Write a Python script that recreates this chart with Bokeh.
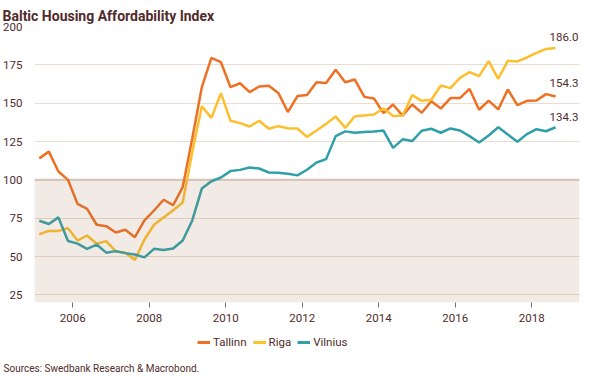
from bokeh.plotting import figure
from bokeh.layouts import column
from bokeh.models import (Range1d, FixedTicker, BoxAnnotation, Span, Label,
                          Legend, LegendItem, ColumnDataSource, Title)
from bokeh.embed import file_html
from bokeh.resources import INLINE

# ---- data (quarterly, 2005Q1 .. 2018Q3) ----
start_year = 2005
n_quarters = 55
quarter_x = [start_year + (i + 0.5) / 4 for i in range(n_quarters)]

tallinn = [114.0, 118.4, 105.4, 100.0, 84.3, 81.1, 70.7, 69.8, 65.7, 67.4,
           62.6, 73.5, 80.0, 87.0, 83.4, 95.2, 127.0, 160.4, 179.6, 176.7,
           160.4, 163.0, 157.2, 160.9, 161.3, 156.7, 144.2, 154.6, 155.4, 163.6,
           163.2, 171.8, 163.6, 165.4, 154.1, 153.1, 143.5, 149.1, 141.8, 149.1,
           143.7, 151.3, 146.5, 153.3, 153.3, 159.3, 145.7, 151.7, 145.9, 158.9,
           148.7, 151.5, 151.7, 155.9, 154.3]

riga = [64.5, 66.7, 66.7, 68.4, 60.4, 63.7, 58.3, 60.0, 53.3, 52.4,
        47.8, 61.1, 70.7, 75.4, 80.2, 85.2, 118.0, 148.0, 140.4, 156.5,
        138.5, 137.0, 134.8, 138.5, 133.3, 135.0, 133.7, 133.5, 128.0, 132.2,
        136.5, 141.3, 133.9, 141.5, 142.0, 142.6, 146.5, 141.7, 142.0, 155.2,
        151.5, 152.2, 161.5, 159.8, 166.5, 170.2, 167.6, 177.4, 165.9, 177.6,
        177.2, 179.8, 182.8, 185.4, 186.0]

vilnius = [73.3, 71.2, 75.5, 60.1, 58.4, 55.0, 57.8, 52.5, 53.5, 52.2,
           51.3, 49.4, 55.0, 54.3, 55.2, 60.4, 73.5, 94.3, 99.1, 101.5,
           105.7, 106.5, 108.0, 107.4, 104.8, 104.6, 104.0, 102.9, 106.6, 111.3,
           113.5, 128.5, 131.6, 130.7, 131.2, 131.5, 132.1, 120.8, 126.4, 125.3,
           132.0, 133.3, 130.7, 133.5, 132.2, 128.5, 124.3, 128.9, 134.3, 129.6,
           124.8, 129.8, 133.0, 131.7, 134.3]

series_names = ["Tallinn", "Riga", "Vilnius"]
series_colors = ["#ee7023", "#fdbf2d", "#2fa0a8"]
end_labels = ["154.3", "186.0", "134.3"]

y_ticks = [25, 50, 75, 100, 125, 150, 175, 200]
x_ticks = [2006, 2008, 2010, 2012, 2014, 2016, 2018]

TEXT = "#512b2b"
FONT = "Roboto"

p = figure(width=587, height=328, output_backend="svg", toolbar_location=None,
           x_range=Range1d(2005.0, 2019.25), y_range=Range1d(20, 200),
           min_border_left=26, min_border_right=8, min_border_top=26,
           min_border_bottom=26)

p.title.text = "Baltic Housing Affordability Index"
p.title.text_font = FONT
p.title.text_font_size = "14px"
p.title.text_font_style = "bold"
p.title.text_color = TEXT
p.title.align = "left"
p.title.offset = -32
p.title.standoff = 6

p.outline_line_color = None
p.background_fill_color = "white"
p.border_fill_color = "white"

# axes
p.yaxis.ticker = FixedTicker(ticks=y_ticks)
p.yaxis.axis_line_color = None
p.yaxis.major_tick_line_color = None
p.yaxis.minor_tick_line_color = None
p.yaxis.major_label_text_font = FONT
p.yaxis.major_label_text_font_size = "11.5px"
p.yaxis.major_label_text_color = TEXT
p.yaxis.major_label_standoff = 6

p.xaxis.ticker = FixedTicker(ticks=x_ticks)
p.xaxis.axis_line_color = None
p.xaxis.major_tick_in = 0
p.xaxis.major_tick_out = 5
p.xaxis.major_tick_line_color = "#7d6b6b"
p.xaxis.minor_tick_line_color = None
p.xaxis.major_label_text_font = FONT
p.xaxis.major_label_text_font_size = "11.5px"
p.xaxis.major_label_text_color = TEXT
p.xaxis.major_label_standoff = 6

p.xgrid.grid_line_color = None
p.ygrid.grid_line_color = "#e9dcd1"
p.ygrid.grid_line_width = 1.2

p.add_layout(Span(location=100, dimension="width", line_color="#d9c7ba",
                  line_width=2, level="underlay"))

for name, ys, col in zip(series_names, [tallinn, riga, vilnius], series_colors):
    src = ColumnDataSource(dict(x=quarter_x, y=ys))
    p.line("x", "y", source=src, line_color=col, line_width=2.5)

# shaded region below 100 drawn over the lines
p.add_layout(BoxAnnotation(top=100, fill_color="#a27352", fill_alpha=0.15,
                           line_color=None))

offsets = [14, 11, 10]
for ys, txt, off in zip([tallinn, riga, vilnius], end_labels, offsets):
    p.add_layout(Label(x=quarter_x[-1], y=ys[-1], text=txt, x_offset=-6,
                       y_offset=off, text_baseline="middle", text_align="left",
                       text_font=FONT, text_font_size="11.5px", text_color=TEXT))

# ---- footer: legend + source (series drawn out of view, only for legend) ----
f = figure(width=587, height=45, output_backend="svg", toolbar_location=None,
           x_range=Range1d(0, 1), y_range=Range1d(0, 1), min_border=0,
           x_axis_location=None, y_axis_location=None)
f.grid.visible = False
f.outline_line_color = None
f.border_fill_color = "white"

leg_renderers = []
for ys, col in zip([tallinn, riga, vilnius], series_colors):
    leg_renderers.append(f.line(quarter_x, ys, line_color=col, line_width=3))

f.add_layout(Title(text="Sources: Swedbank Research & Macrobond.", align="left",
                   text_font=FONT, text_font_size="10px",
                   text_font_style="normal", text_color=TEXT,
                   offset=-31, standoff=0), "below")

legend = Legend(items=[LegendItem(label=n, renderers=[r])
                       for n, r in zip(series_names, leg_renderers)],
                orientation="horizontal", location=(163, 11),
                label_text_font=FONT, label_text_font_size="11.5px",
                label_text_color=TEXT, glyph_width=13, glyph_height=12,
                label_standoff=3, spacing=6, padding=0, margin=0,
                border_line_color=None, background_fill_alpha=0)
f.add_layout(legend, "center")

layout = column(p, f, spacing=0)
open("out.html", "w").write(file_html(layout, INLINE))
